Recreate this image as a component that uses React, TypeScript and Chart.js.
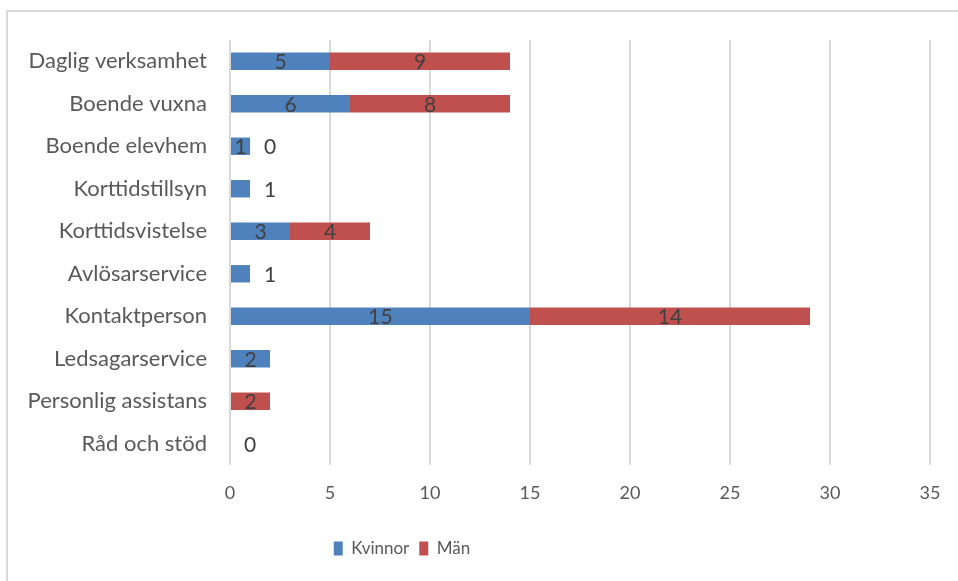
import React, { useEffect, useRef } from "react";
import { Chart, registerables } from "chart.js";

Chart.register(...registerables);

const categories = [
  "Daglig verksamhet",
  "Boende vuxna",
  "Boende elevhem",
  "Korttidstillsyn",
  "Korttidsvistelse",
  "Avlösarservice",
  "Kontaktperson",
  "Ledsagarservice",
  "Personlig assistans",
  "Råd och stöd",
];
const kvinnor: (number | null)[] = [5, 6, 1, 1, 3, 1, 15, 2, null, 0];
const man: (number | null)[] = [9, 8, 0, null, 4, null, 14, null, 2, null];
const seriesNames = ["Kvinnor", "Män"];
const kvinnorOutsideLabels = ["Korttidstillsyn", "Avlösarservice"];
const xMin = 0;
const xMax = 35;
const xStep = 5;

const FONT = "Lato";

const labelPlugin = {
  id: "valueLabels",
  afterDatasetsDraw(chart: any) {
    const ctx = chart.ctx;
    ctx.save();
    ctx.font = `21px ${FONT}`;
    ctx.fillStyle = "#404040";
    ctx.textAlign = "center";
    ctx.textBaseline = "middle";
    chart.data.datasets.forEach((ds: any, di: number) => {
      const meta = chart.getDatasetMeta(di);
      meta.data.forEach((el: any, i: number) => {
        const v = ds.data[i];
        if (v === null || v === undefined) return;
        const outside =
          v === 0 || (di === 0 && kvinnorOutsideLabels.includes(categories[i]));
        const x = outside ? el.x + 20 : (el.x + el.base) / 2;
        ctx.fillText(String(v), x, el.y + 1);
      });
    });
    ctx.restore();
  },
};

const framePlugin = {
  id: "frame",
  beforeDraw(chart: any) {
    const ctx = chart.ctx;
    ctx.save();
    ctx.fillStyle = "#ffffff";
    ctx.fillRect(0, 0, chart.width, chart.height);
    ctx.strokeStyle = "#d9d9d9";
    ctx.lineWidth = 2;
    ctx.strokeRect(7, 11, 1200, 1200);
    ctx.restore();
  },
  afterLayout(chart: any) {
    const lg = chart.legend;
    if (lg) {
      const shift = (lg.left + lg.right) / 2 - 402;
      lg.left -= shift;
      lg.right -= shift;
    }
  },
};

export default function App() {
  const ref = useRef<HTMLCanvasElement>(null);
  useEffect(() => {
    if (!ref.current) return;
    const chart = new Chart(ref.current, {
      type: "bar",
      data: {
        labels: categories,
        datasets: [
          {
            label: seriesNames[0],
            data: kvinnor,
            backgroundColor: "#4F81BD",
            categoryPercentage: 0.41,
            barPercentage: 1,
          },
          {
            label: seriesNames[1],
            data: man,
            backgroundColor: "#C0504D",
            categoryPercentage: 0.41,
            barPercentage: 1,
          },
        ],
      },
      options: {
        indexAxis: "y",
        responsive: false,
        animation: false,
        layout: { padding: { top: 40, right: 28, left: 0, bottom: 14 } },
        scales: {
          x: {
            stacked: true,
            min: xMin,
            max: xMax,
            ticks: {
              stepSize: xStep,
              color: "#595959",
              font: { family: FONT, size: 18 },
              padding: 17,
            },
            grid: { color: "#d9d9d9", lineWidth: 2, drawTicks: false },
            border: { display: false },
            afterFit(scale: any) {
              scale.height = 65;
            },
          },
          y: {
            stacked: true,
            ticks: {
              color: "#595959",
              font: { family: FONT, size: 22 },
              padding: 23,
            },
            grid: { display: false, drawTicks: false },
            border: { display: false },
            afterFit(scale: any) {
              scale.width = 230;
            },
          },
        },
        plugins: {
          legend: {
            position: "bottom",
            labels: {
              color: "#595959",
              font: { family: FONT, size: 17 },
              boxWidth: 9,
              boxHeight: 14,
              padding: 10,
            },
          },
          tooltip: { enabled: false },
        },
      },
      plugins: [labelPlugin, framePlugin],
    } as any);
    return () => chart.destroy();
  }, []);
  return (
    <div style={{ position: "absolute", left: 0, top: 0, width: 958, height: 581 }}>
      <canvas ref={ref} width={958} height={581} />
    </div>
  );
}
